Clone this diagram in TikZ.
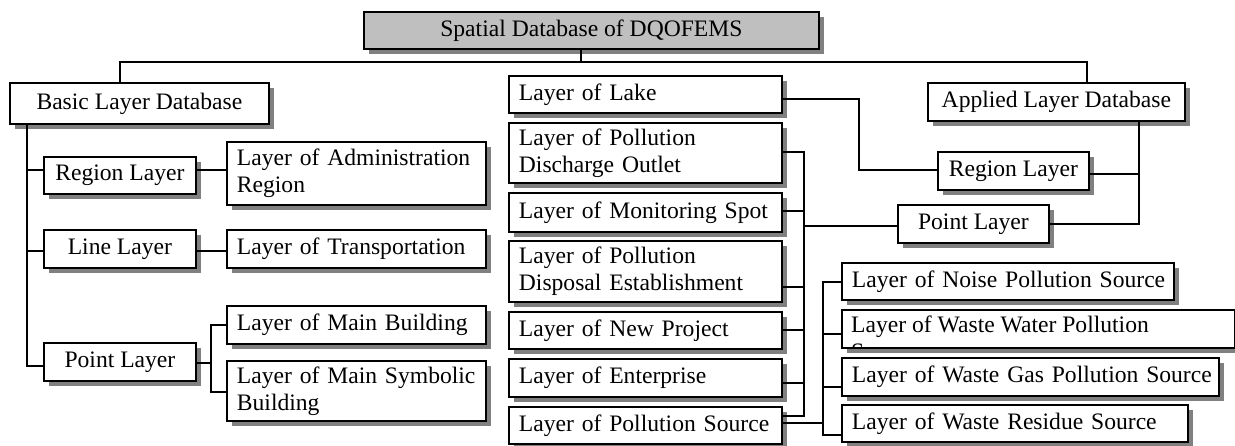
\documentclass[tikz,border=0pt]{standalone}
\usepackage{fontspec}
\setmainfont{Liberation Serif}
\usetikzlibrary{shadows}
\newcommand\lyr{\fontsize{23.6}{27}\selectfont}
\begin{document}
\begin{tikzpicture}[x=1pt,y=-1pt,
  box/.style={draw, line width=1.8pt, fill=white, inner sep=0pt, font=\lyr, anchor=north west,
    drop shadow={shadow xshift=5pt, shadow yshift=-5pt, fill=black!50, opacity=1}},
  cbox/.style={box, align=center},
  lbox/.style={box, align=left, inner xsep=10pt},
  conn/.style={draw, line width=1.3pt}]
\useasboundingbox (0,0) rectangle (1235,446);

% boxes
\node[cbox, fill=black!25, minimum width=455, minimum height=37] (title) at (363,11) {Spatial Database of DQOFEMS};
\node[cbox, minimum width=259, minimum height=41] (basic) at (9,82) {Basic Layer Database};
\node[cbox, minimum width=152, minimum height=37] (rl) at (43,156) {Region Layer};
\node[cbox, minimum width=152, minimum height=38] (ll) at (43,229) {Line Layer};
\node[cbox, minimum width=152, minimum height=38] (pl) at (43,342) {Point Layer};
\node[lbox, text width=239, minimum height=63] (adm) at (226,141) {\mbox{Layer of Administration}\\\mbox{Region}};
\node[lbox, text width=239, minimum height=38] (trans) at (226,229) {\mbox{Layer of Transportation}};
\node[lbox, text width=239, minimum height=38] (mb) at (226,305) {\mbox{Layer of Main Building}};
\node[lbox, text width=239, minimum height=60] (msb) at (226,360) {\mbox{Layer of Main Symbolic}\\\mbox{Building}};

\node[lbox, text width=253, minimum height=37] (lake) at (508,75) {\mbox{Layer of Lake}};
\node[lbox, text width=253, minimum height=60] (pdo) at (508,122) {\mbox{Layer of Pollution}\\\mbox{Discharge Outlet}};
\node[lbox, text width=253, minimum height=39] (ms) at (508,192) {\mbox{Layer of Monitoring Spot}};
\node[lbox, text width=253, minimum height=61] (pde) at (508,240) {\mbox{Layer of Pollution}\\\mbox{Disposal Establishment}};
\node[lbox, text width=253, minimum height=37] (np) at (508,311) {\mbox{Layer of New Project}};
\node[lbox, text width=253, minimum height=38] (ent) at (508,358) {\mbox{Layer of Enterprise}};
\node[lbox, text width=253, minimum height=37] (ps) at (508,406) {\mbox{Layer of Pollution Source}};

\node[cbox, minimum width=257, minimum height=38] (app) at (927,82) {Applied Layer Database};
\node[cbox, minimum width=151, minimum height=38] (rrl) at (937,151) {Region Layer};
\node[cbox, minimum width=151, minimum height=38] (rpl) at (897,204) {Point Layer};

\node[lbox, text width=312, minimum height=37] (noise) at (841,262) {\mbox{Layer of Noise Pollution Source}};
\node[box, minimum width=393, minimum height=38] (ww) at (841,309) {};
\begin{scope}
  \clip ([xshift=1pt,yshift=-1pt]ww.north west) rectangle ([xshift=-1pt,yshift=1pt]ww.south east);
  \node[font=\lyr, align=left, anchor=north west, inner sep=0pt] (wwt) at ([xshift=10pt,yshift=-7pt]ww.north west) {Layer of Waste Water Pollution\\Source};
\end{scope}
\node[lbox, text width=357, minimum height=38] (gas) at (841,357) {\mbox{Layer of Waste Gas Pollution Source}};
\node[lbox, text width=326, minimum height=37] (res) at (841,404) {\mbox{Layer of Waste Residue Source}};

% top connectors
\coordinate (tj) at (581,62);
\coordinate (lj) at (120,62);
\coordinate (rj) at (1087,62);
\draw[conn] (tj |- title.south) -- (tj);
\draw[conn] (lj |- basic.north) -- (lj) -- (rj) -- (rj |- app.north);

% left tree
\coordinate (b1) at (27,170);
\coordinate (b2) at (27,251);
\coordinate (b3) at (27,366);
\draw[conn] (b3 |- basic.south) -- (b3) -- (b3 -| pl.west);
\draw[conn] (b1) -- (b1 -| rl.west);
\draw[conn] (b2) -- (b2 -| ll.west);
\draw[conn] (rl.east |- b1) -- (adm.west |- b1);
\draw[conn] (ll.east |- b2) -- (trans.west |- b2);
\coordinate (p0) at (211,363);
\coordinate (p1) at (211,325);
\coordinate (p2) at (211,392);
\draw[conn] (pl.east |- p0) -- (p0);
\draw[conn] (p1 -| mb.west) -- (p1) -- (p2) -- (p2 -| msb.west);

% middle bus
\coordinate (m1) at (804,152);
\coordinate (m2) at (804,211);
\coordinate (m3) at (804,226);
\coordinate (m4) at (804,287);
\coordinate (m5) at (804,330);
\coordinate (m6) at (804,383);
\coordinate (m7) at (804,416);
\draw[conn] (pdo.east |- m1) -- (m1) -- (m7) -- (ps.east |- m7);
\draw[conn] (ms.east |- m2) -- (m2);
\draw[conn] (pde.east |- m4) -- (m4);
\draw[conn] (np.east |- m5) -- (m5);
\draw[conn] (ent.east |- m6) -- (m6);
\draw[conn] (m3) -- (m3 -| rpl.west);

% lake to region layer
\coordinate (k1) at (859,99);
\coordinate (k2) at (859,170);
\draw[conn] (lake.east |- k1) -- (k1) -- (k2) -- (k2 -| rrl.west);

% applied layer
\coordinate (a1) at (1139,174);
\coordinate (a2) at (1139,224);
\draw[conn] (a1 |- app.south) -- (a2) -- (a2 -| rpl.east);
\draw[conn] (rrl.east |- a1) -- (a1);

% pollution source bus
\coordinate (r1) at (823,282);
\coordinate (r2) at (823,334);
\coordinate (r3) at (823,387);
\coordinate (r4) at (823,435);
\coordinate (r5) at (823,423);
\draw[conn] (r1 -| noise.west) -- (r1) -- (r4) -- (r4 -| res.west);
\draw[conn] (r2) -- (r2 -| ww.west);
\draw[conn] (r3) -- (r3 -| gas.west);
\draw[conn] (ps.east |- r5) -- (r5);
\end{tikzpicture}
\end{document}
